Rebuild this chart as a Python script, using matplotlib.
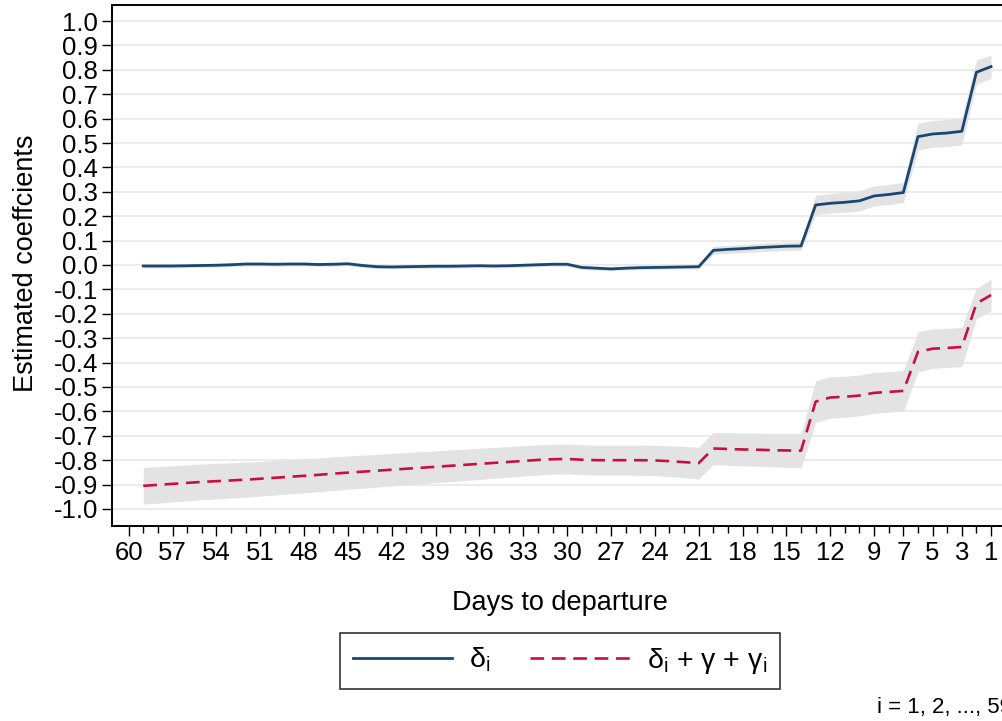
import matplotlib
matplotlib.use("Agg")
import matplotlib.pyplot as plt

plt.rcParams["font.family"] = ["Liberation Sans", "DejaVu Sans"]
plt.rcParams["axes.unicode_minus"] = False
plt.rcParams["mathtext.fontset"] = "custom"
plt.rcParams["mathtext.rm"] = "Liberation Sans"
plt.rcParams["mathtext.it"] = "Liberation Sans"
plt.rcParams["mathtext.default"] = "regular"

# Days to departure, 59 down to 1
days = list(range(59, 0, -1))

# Estimated delta_i
delta = [-0.004, -0.004, -0.004, -0.003, -0.002, -0.001, 0.001, 0.004, 0.004, 0.003,
         0.004, 0.004, 0.002, 0.003, 0.005, -0.002, -0.007, -0.008, -0.007, -0.006,
         -0.005, -0.005, -0.004, -0.003, -0.004, -0.003, -0.001, 0.001, 0.003, 0.003,
         -0.010, -0.013, -0.016, -0.013, -0.011, -0.010, -0.009, -0.008, -0.007,
         0.060, 0.064, 0.067, 0.071, 0.074, 0.077, 0.078,
         0.246, 0.253, 0.257, 0.263, 0.283, 0.289, 0.297,
         0.526, 0.537, 0.541, 0.548,
         0.790, 0.813]
delta_ci = [0.008, 0.008, 0.008, 0.008, 0.008, 0.008, 0.008, 0.008, 0.008, 0.008,
            0.008, 0.008, 0.008, 0.008, 0.008, 0.008, 0.008, 0.008, 0.008, 0.008,
            0.008, 0.008, 0.008, 0.008, 0.008, 0.008, 0.008, 0.008, 0.008, 0.008,
            0.008, 0.008, 0.008, 0.008, 0.008, 0.008, 0.008, 0.008, 0.008,
            0.016, 0.016, 0.016, 0.017, 0.017, 0.017, 0.017,
            0.040, 0.040, 0.041, 0.041, 0.041, 0.041, 0.041,
            0.055, 0.055, 0.055, 0.056,
            0.050, 0.047]

# Estimated delta_i + gamma + gamma_i
total = [-0.905, -0.901, -0.897, -0.893, -0.889, -0.886, -0.883, -0.880, -0.876, -0.872,
         -0.868, -0.864, -0.860, -0.855, -0.851, -0.847, -0.843, -0.839, -0.835, -0.831,
         -0.827, -0.823, -0.819, -0.815, -0.811, -0.807, -0.803, -0.799, -0.796, -0.795,
         -0.798, -0.800, -0.800, -0.800, -0.800, -0.801, -0.804, -0.808, -0.812,
         -0.752, -0.754, -0.756, -0.757, -0.759, -0.760, -0.761,
         -0.560, -0.543, -0.540, -0.535, -0.524, -0.520, -0.516,
         -0.356, -0.343, -0.340, -0.336,
         -0.158, -0.123]
total_ci = [0.075, 0.075, 0.074, 0.074, 0.073, 0.073, 0.072, 0.072, 0.071, 0.071,
            0.070, 0.070, 0.069, 0.069, 0.068, 0.068, 0.067, 0.067, 0.066, 0.066,
            0.065, 0.065, 0.064, 0.064, 0.063, 0.063, 0.062, 0.062, 0.061, 0.061,
            0.061, 0.061, 0.061, 0.061, 0.062, 0.062, 0.063, 0.064, 0.065,
            0.066, 0.067, 0.067, 0.068, 0.068, 0.069, 0.070,
            0.085, 0.085, 0.084, 0.084, 0.084, 0.083, 0.083,
            0.082, 0.081, 0.080, 0.080,
            0.062, 0.065]

xtick_labels = [60, 57, 54, 51, 48, 45, 42, 39, 36, 33, 30, 27, 24, 21, 18, 15, 12, 9, 7, 5, 3, 1]
ytick_values = [round(-1.0 + 0.1 * k, 1) for k in range(21)]

navy = "#1a476f"
cranberry = "#c8103e"
band = "#e3e3e3"

W, H = 1002, 721
fig = plt.figure(figsize=(W / 100, H / 100), dpi=100)
ax = fig.add_axes([112 / W, 1 - 526 / H, (1002 - 112) / W, (526 - 5) / H])

lo_d = [m - c for m, c in zip(delta, delta_ci)]
hi_d = [m + c for m, c in zip(delta, delta_ci)]
lo_t = [m - c for m, c in zip(total, total_ci)]
hi_t = [m + c for m, c in zip(total, total_ci)]

ax.fill_between(days, lo_d, hi_d, color=band, lw=0, zorder=2)
ax.fill_between(days, lo_t, hi_t, color=band, lw=0, zorder=2)
l1, = ax.plot(days, delta, color=navy, lw=2.0, zorder=3, solid_joinstyle="round")
l2, = ax.plot(days, total, color=cranberry, lw=1.9, zorder=3, dashes=(5.2, 2.9))

ax.set_xlim(61.14, 0.25)
ax.set_ylim(-1.0697, 1.0656)

ax.set_xticks(xtick_labels)
ax.set_xticklabels([str(v) for v in xtick_labels])
ax.set_xticks(list(range(60, 0, -1)), minor=True)
ax.set_yticks(ytick_values)
ax.set_yticklabels(["%.1f" % v for v in ytick_values])

ax.tick_params(axis="both", which="major", labelsize=18.5, length=7, width=1.0,
               color="black", direction="out")
ax.tick_params(axis="y", pad=3)
ax.tick_params(axis="x", pad=4)
ax.tick_params(axis="x", which="minor", length=5, width=1.0)

ax.grid(axis="y", color="#e8e8e8", lw=1.2, zorder=0)
ax.set_axisbelow(True)
for side in ["left", "bottom", "top"]:
    ax.spines[side].set_linewidth(1.4)
    ax.spines[side].set_color("black")
ax.spines["right"].set_visible(False)

ax.set_xlabel("Days to departure", fontsize=19.5, va="center")
ax.xaxis.set_label_coords((560 - 112) / 890, (526 - 603) / 521)
ax.set_ylabel("Estimated coeffcients", fontsize=19.5, va="center")
ax.yaxis.set_label_coords((26 - 112) / 890, (526 - 263.5) / 521)

leg = fig.legend([l1, l2],
                 [r"$\delta_{i}$", r"$\delta_{i}$ + $\gamma$ + $\gamma_{i}$"],
                 loc="center", bbox_to_anchor=(560 / W, 1 - 661 / H),
                 ncol=2, fontsize=20.5, frameon=True, fancybox=False,
                 handlelength=3.5, handletextpad=0.6, columnspacing=1.4,
                 borderpad=0.45, edgecolor="black")
leg.get_frame().set_linewidth(1.2)

fig.text(877 / W, 1 - 707 / H, "i = 1, 2, ..., 59", fontsize=16, ha="left", va="center")

fig.savefig("out.png", dpi=100, facecolor="white")
